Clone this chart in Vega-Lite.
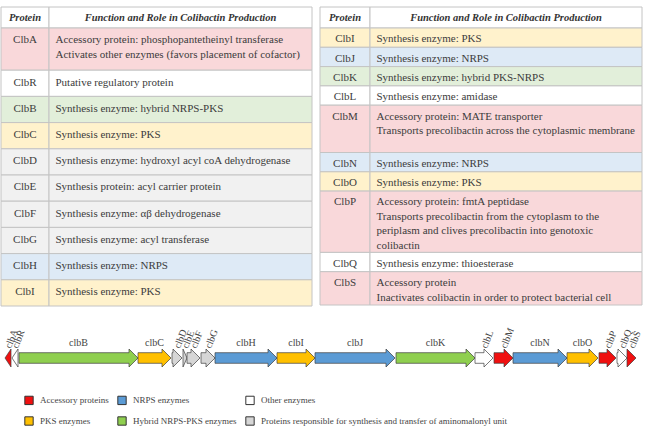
{
  "$schema": "https://vega.github.io/schema/vega-lite/v6.json",
  "width": 645,
  "height": 429,
  "autosize": {"type": "fit", "contains": "padding"},
  "padding": 0,
  "background": "white",
  "config": {"view": {"stroke": null}, "font": "Liberation Serif"},
  "layer": [
    {
      "data": {"values": [
        {"tbl": "L", "order": 0, "protein": "Protein", "cat": "header", "text": "Function and Role in Colibactin Production"},
        {"tbl": "L", "order": 1, "protein": "ClbA", "cat": "acc", "text": "Accessory protein: phosphopantetheinyl transferase\nActivates other enzymes (favors placement of cofactor)"},
        {"tbl": "L", "order": 2, "protein": "ClbR", "cat": "other", "text": "Putative regulatory protein"},
        {"tbl": "L", "order": 3, "protein": "ClbB", "cat": "hybrid", "text": "Synthesis enzyme: hybrid NRPS-PKS"},
        {"tbl": "L", "order": 4, "protein": "ClbC", "cat": "pks", "text": "Synthesis enzyme: PKS"},
        {"tbl": "L", "order": 5, "protein": "ClbD", "cat": "amino", "text": "Synthesis enzyme: hydroxyl acyl coA dehydrogenase"},
        {"tbl": "L", "order": 6, "protein": "ClbE", "cat": "amino", "text": "Synthesis protein: acyl carrier protein"},
        {"tbl": "L", "order": 7, "protein": "ClbF", "cat": "amino", "text": "Synthesis enzyme: αβ dehydrogenase"},
        {"tbl": "L", "order": 8, "protein": "ClbG", "cat": "amino", "text": "Synthesis enzyme: acyl transferase"},
        {"tbl": "L", "order": 9, "protein": "ClbH", "cat": "nrps", "text": "Synthesis enzyme: NRPS"},
        {"tbl": "L", "order": 10, "protein": "ClbI", "cat": "pks", "text": "Synthesis enzyme: PKS"},
        {"tbl": "R", "order": 0, "protein": "Protein", "cat": "header", "text": "Function and Role in Colibactin Production"},
        {"tbl": "R", "order": 1, "protein": "ClbI", "cat": "pks", "text": "Synthesis enzyme: PKS"},
        {"tbl": "R", "order": 2, "protein": "ClbJ", "cat": "nrps", "text": "Synthesis enzyme: NRPS"},
        {"tbl": "R", "order": 3, "protein": "ClbK", "cat": "hybrid", "text": "Synthesis enzyme: hybrid PKS-NRPS"},
        {"tbl": "R", "order": 4, "protein": "ClbL", "cat": "other", "text": "Synthesis enzyme: amidase"},
        {"tbl": "R", "order": 5, "protein": "ClbM", "cat": "acc", "text": "Accessory protein: MATE transporter\nTransports precolibactin across the cytoplasmic membrane\n"},
        {"tbl": "R", "order": 6, "protein": "ClbN", "cat": "nrps", "text": "Synthesis enzyme: NRPS"},
        {"tbl": "R", "order": 7, "protein": "ClbO", "cat": "pks", "text": "Synthesis enzyme: PKS"},
        {"tbl": "R", "order": 8, "protein": "ClbP", "cat": "acc", "text": "Accessory protein: fmtA peptidase\nTransports precolibactin from the cytoplasm to the\nperiplasm and clives precolibactin into genotoxic\ncolibactin"},
        {"tbl": "R", "order": 9, "protein": "ClbQ", "cat": "other", "text": "Synthesis enzyme: thioesterase"},
        {"tbl": "R", "order": 10, "protein": "ClbS", "cat": "acc", "text": "Accessory protein\nInactivates colibactin in order to protect bacterial cell"}
      ]},
      "transform": [
        {"calculate": "length(split(datum.text, '\\n'))", "as": "n"},
        {"calculate": "datum.order == 0 ? 21 : (datum.tbl == 'L' ? 26.2 + 16 * (datum.n - 1) : 19.3 + 14 * (datum.n - 1))", "as": "h"},
        {"window": [{"op": "sum", "field": "h", "as": "cum"}], "groupby": ["tbl"], "sort": [{"field": "order", "order": "ascending"}], "frame": [null, 0]},
        {"calculate": "7 + datum.cum", "as": "y2"},
        {"calculate": "datum.y2 - datum.h", "as": "y"},
        {"calculate": "datum.tbl == 'L' ? 1 : 320", "as": "xa"},
        {"calculate": "datum.tbl == 'L' ? 49 : 370", "as": "xd"},
        {"calculate": "datum.tbl == 'L' ? 312 : 642", "as": "xe"},
        {"calculate": "(datum.xa + datum.xd) / 2", "as": "pc"},
        {"calculate": "(datum.xd + datum.xe) / 2", "as": "fc"},
        {"calculate": "datum.xd + 6.5", "as": "tx"},
        {"calculate": "datum.y + (datum.tbl == 'L' ? 6.3 : 5.3)", "as": "ty"},
        {"calculate": "(datum.y + datum.y2) / 2", "as": "ym"}
      ],
      "layer": [
        {
          "mark": {"type": "rect", "stroke": "#c4c4c4", "strokeWidth": 1},
          "encoding": {
            "x": {"field": "xa", "type": "quantitative", "scale": {"domain": [0, 645], "nice": false, "zero": false}, "axis": null},
            "x2": {"field": "xd"},
            "y": {"field": "y", "type": "quantitative", "scale": {"domain": [0, 429], "reverse": true, "nice": false, "zero": false}, "axis": null},
            "y2": {"field": "y2"},
            "fill": {"field": "cat", "type": "nominal", "scale": {"domain": ["header", "acc", "other", "hybrid", "pks", "amino", "nrps"], "range": ["#ffffff", "#f9d8da", "#ffffff", "#e2efda", "#fff2cc", "#f1f1f1", "#deeaf6"]}, "legend": null}
          }
        },
        {
          "mark": {"type": "rect", "stroke": "#c4c4c4", "strokeWidth": 1},
          "encoding": {
            "x": {"field": "xd", "type": "quantitative", "scale": {"domain": [0, 645], "nice": false, "zero": false}, "axis": null},
            "x2": {"field": "xe"},
            "y": {"field": "y", "type": "quantitative", "scale": {"domain": [0, 429], "reverse": true, "nice": false, "zero": false}, "axis": null},
            "y2": {"field": "y2"},
            "fill": {"field": "cat", "type": "nominal", "legend": null}
          }
        },
        {
          "transform": [{"filter": "datum.order == 0"}],
          "mark": {"type": "text", "font": "Liberation Serif", "fontSize": 10.5, "fontWeight": "bold", "fontStyle": "italic", "color": "#333333", "align": "center", "baseline": "middle"},
          "encoding": {
            "x": {"field": "pc", "type": "quantitative", "scale": {"domain": [0, 645], "nice": false, "zero": false}, "axis": null},
            "y": {"field": "ym", "type": "quantitative", "scale": {"domain": [0, 429], "reverse": true, "nice": false, "zero": false}, "axis": null},
            "text": {"field": "protein"}
          }
        },
        {
          "transform": [{"filter": "datum.order == 0"}],
          "mark": {"type": "text", "font": "Liberation Serif", "fontSize": 10.5, "fontWeight": "bold", "fontStyle": "italic", "color": "#333333", "align": "center", "baseline": "middle"},
          "encoding": {
            "x": {"field": "fc", "type": "quantitative", "scale": {"domain": [0, 645], "nice": false, "zero": false}, "axis": null},
            "y": {"field": "ym", "type": "quantitative", "scale": {"domain": [0, 429], "reverse": true, "nice": false, "zero": false}, "axis": null},
            "text": {"field": "text"}
          }
        },
        {
          "transform": [{"filter": "datum.order > 0"}],
          "mark": {"type": "text", "font": "Liberation Serif", "fontSize": 11, "color": "#3c3c3c", "align": "center", "baseline": "top"},
          "encoding": {
            "x": {"field": "pc", "type": "quantitative", "scale": {"domain": [0, 645], "nice": false, "zero": false}, "axis": null},
            "y": {"field": "ty", "type": "quantitative", "scale": {"domain": [0, 429], "reverse": true, "nice": false, "zero": false}, "axis": null},
            "text": {"field": "protein"}
          }
        },
        {
          "transform": [{"filter": "datum.order > 0"}],
          "mark": {"type": "text", "font": "Liberation Serif", "fontSize": 11, "color": "#3c3c3c", "align": "left", "baseline": "top", "lineBreak": "\n", "lineHeight": 14.5},
          "encoding": {
            "x": {"field": "tx", "type": "quantitative", "scale": {"domain": [0, 645], "nice": false, "zero": false}, "axis": null},
            "y": {"field": "ty", "type": "quantitative", "scale": {"domain": [0, 429], "reverse": true, "nice": false, "zero": false}, "axis": null},
            "text": {"field": "text"}
          }
        }
      ]
    },
    {
      "data": {"values": [
        {"gene": "clbA", "start": 5, "end": 11, "strand": -1, "cat": "Accessory proteins"},
        {"gene": "clbR", "start": 12, "end": 18, "strand": -1, "cat": "Other enzymes"},
        {"gene": "clbB", "start": 19, "end": 138, "strand": 1, "cat": "Hybrid NRPS-PKS enzymes"},
        {"gene": "clbC", "start": 138, "end": 171, "strand": 1, "cat": "PKS enzymes"},
        {"gene": "clbD", "start": 172, "end": 182, "strand": 1, "cat": "Proteins responsible for synthesis and transfer of aminomalonyl unit"},
        {"gene": "clbE", "start": 183, "end": 187, "strand": 1, "cat": "Proteins responsible for synthesis and transfer of aminomalonyl unit"},
        {"gene": "clbF", "start": 187, "end": 200, "strand": 1, "cat": "Proteins responsible for synthesis and transfer of aminomalonyl unit"},
        {"gene": "clbG", "start": 201, "end": 215, "strand": 1, "cat": "Proteins responsible for synthesis and transfer of aminomalonyl unit"},
        {"gene": "clbH", "start": 215, "end": 277, "strand": 1, "cat": "NRPS enzymes"},
        {"gene": "clbI", "start": 277, "end": 315, "strand": 1, "cat": "PKS enzymes"},
        {"gene": "clbJ", "start": 315, "end": 395, "strand": 1, "cat": "NRPS enzymes"},
        {"gene": "clbK", "start": 396, "end": 475, "strand": 1, "cat": "Hybrid NRPS-PKS enzymes"},
        {"gene": "clbL", "start": 475, "end": 493, "strand": 1, "cat": "Other enzymes"},
        {"gene": "clbM", "start": 494, "end": 513, "strand": 1, "cat": "Accessory proteins"},
        {"gene": "clbN", "start": 513, "end": 567, "strand": 1, "cat": "NRPS enzymes"},
        {"gene": "clbO", "start": 567, "end": 598, "strand": 1, "cat": "PKS enzymes"},
        {"gene": "clbP", "start": 599, "end": 616, "strand": 1, "cat": "Accessory proteins"},
        {"gene": "clbQ", "start": 617, "end": 627, "strand": 1, "cat": "Other enzymes"},
        {"gene": "clbS", "start": 627, "end": 636, "strand": 1, "cat": "Accessory proteins"}
      ]},
      "transform": [
        {"calculate": "datum.end - datum.start", "as": "len"},
        {"calculate": "(datum.start + datum.end) / 2", "as": "mid"}
      ],
      "layer": [
        {
          "transform": [
            {"calculate": "min(9, datum.len)", "as": "hl"},
            {"calculate": "[0, 1, 2, 3]", "as": "v"},
            {"flatten": ["v"]},
            {"calculate": "0.002 * datum.v + (datum.strand > 0 ? (datum.v == 0 ? datum.start : (datum.v <= 2 ? datum.end - datum.hl : datum.end)) : (datum.v == 0 ? datum.start : (datum.v <= 2 ? datum.start + datum.hl : datum.end)))", "as": "px"},
            {"calculate": "datum.strand > 0 ? (datum.v <= 1 ? 5.3 : (datum.v == 2 ? 9 : 0)) : (datum.v == 0 ? 0 : (datum.v == 1 ? 9 : 5.3))", "as": "hh"},
            {"calculate": "358 - datum.hh", "as": "ptop"},
            {"calculate": "358 + datum.hh", "as": "pbot"}
          ],
          "mark": {"type": "area", "stroke": "#3f3f3f", "strokeWidth": 0.7, "interpolate": "linear", "fillOpacity": 1},
          "encoding": {
            "x": {"field": "px", "type": "quantitative", "scale": {"domain": [0, 645], "nice": false, "zero": false}, "axis": null},
            "y": {"field": "ptop", "type": "quantitative", "stack": null, "scale": {"domain": [0, 429], "reverse": true, "nice": false, "zero": false}, "axis": null},
            "y2": {"field": "pbot"},
            "detail": {"field": "gene"},
            "color": {
              "field": "cat", "type": "nominal",
              "scale": {
                "domain": ["Accessory proteins", "NRPS enzymes", "Other enzymes", "PKS enzymes", "Hybrid NRPS-PKS enzymes", "Proteins responsible for synthesis and transfer of aminomalonyl unit"],
                "range": ["#f01010", "#5b9bd5", "#ffffff", "#ffc000", "#8fcf4f", "#d6d6d6"]
              },
              "legend": {
                "title": null, "orient": "none", "legendX": 24, "legendY": 395, "columns": 3, "direction": "horizontal",
                "gridAlign": "each", "columnPadding": 6, "rowPadding": 7, "padding": 0, "offset": 0,
                "symbolType": "square", "symbolSize": 70, "symbolStrokeColor": "#333333", "symbolStrokeWidth": 1, "symbolOpacity": 1,
                "labelFont": "Liberation Serif", "labelFontSize": 9, "labelColor": "#444444", "labelOffset": 6, "labelLimit": 400
              }
            }
          }
        },
        {
          "transform": [{"filter": "datum.len >= 25"}, {"calculate": "343", "as": "ly"}],
          "mark": {"type": "text", "font": "Liberation Serif", "fontSize": 10, "color": "#444444", "align": "center", "baseline": "middle"},
          "encoding": {
            "x": {"field": "mid", "type": "quantitative", "scale": {"domain": [0, 645], "nice": false, "zero": false}, "axis": null},
            "y": {"field": "ly", "type": "quantitative", "scale": {"domain": [0, 429], "reverse": true, "nice": false, "zero": false}, "axis": null},
            "text": {"field": "gene"}
          }
        },
        {
          "transform": [{"filter": "datum.len < 25"}, {"calculate": "348", "as": "ly"}],
          "mark": {"type": "text", "font": "Liberation Serif", "fontSize": 10, "color": "#444444", "align": "left", "baseline": "middle", "angle": -68},
          "encoding": {
            "x": {"field": "mid", "type": "quantitative", "scale": {"domain": [0, 645], "nice": false, "zero": false}, "axis": null},
            "y": {"field": "ly", "type": "quantitative", "scale": {"domain": [0, 429], "reverse": true, "nice": false, "zero": false}, "axis": null},
            "text": {"field": "gene"}
          }
        }
      ]
    }
  ]
}
